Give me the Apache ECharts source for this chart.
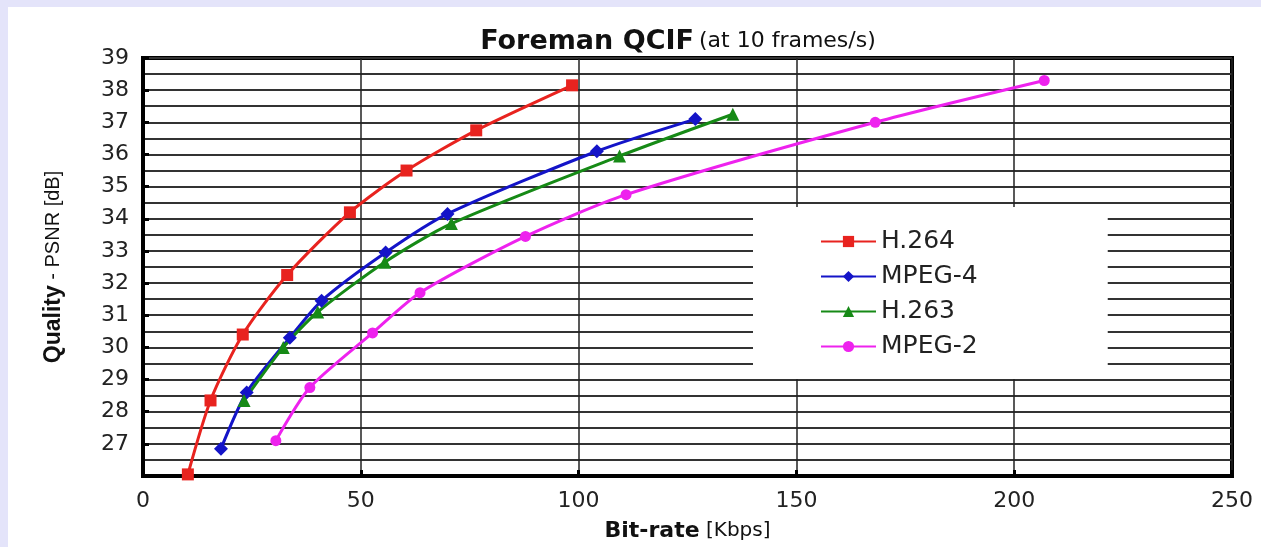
<!DOCTYPE html>
<html>
<head>
<meta charset="utf-8">
<script src="https://cdn.jsdelivr.net/npm/echarts@6/dist/echarts.min.js"></script>
<style>
  html, body { margin: 0; padding: 0; background: #e4e4fa; }
  #main { position: absolute; left: 8px; top: 7px; width: 1253px; height: 540px; background: #fff; }
</style>
</head>
<body>
<div id="main"></div>
<script>
var myChart = echarts.init(document.getElementById('main'));

// bit-rate [Kbps], PSNR [dB]
var h264 = [[10.3, 26.05], [15.5, 28.35], [22.9, 30.4], [33.1, 32.25], [47.5, 34.2], [60.5, 35.5], [76.5, 36.75], [98.5, 38.15]];
var mpeg4 = [[17.9, 26.85], [23.8, 28.6], [33.7, 30.3], [41.0, 31.45], [55.7, 32.95], [69.9, 34.15], [104.2, 36.1], [126.8, 37.1]];
var h263 = [[23.2, 28.35], [32.2, 30.0], [40.1, 31.1], [55.5, 32.65], [70.8, 33.85], [109.4, 35.95], [135.4, 37.25]];
var mpeg2 = [[30.5, 27.1], [38.3, 28.75], [52.7, 30.45], [63.6, 31.7], [87.8, 33.45], [110.9, 34.75], [168.1, 37.0], [206.9, 38.3]];

var names = ['H.264', 'MPEG-4', 'H.263', 'MPEG-2'];
var colors = ['#e8231f', '#1414c8', '#168a16', '#ee22ee'];
var symbols = ['rect', 'diamond', 'triangle', 'circle'];
var symbolSizes = [12, 14, 13, 11];
var sets = [h264, mpeg4, h263, mpeg2];

var font = 'DejaVu Sans, Verdana, sans-serif';

var series = sets.map(function (d, i) {
    return {
        name: names[i],
        type: 'line',
        data: d,
        smooth: 0.25,
        symbol: symbols[i],
        symbolSize: symbolSizes[i],
        showAllSymbol: true,
        color: colors[i],
        lineStyle: { width: 3, color: colors[i] },
        itemStyle: { color: colors[i] },
        animation: false
    };
});

var option = {
    animation: false,
    title: {
        text: '{b|Foreman QCIF} {n|(at 10 frames/s)}',
        left: 665,
        textAlign: 'center',
        top: 16,
        textStyle: {
            fontWeight: 'normal',
            rich: {
                b: { fontFamily: font, fontWeight: 'bold', fontSize: 27, color: '#111' },
                n: { fontFamily: font, fontWeight: 'normal', fontSize: 22, color: '#111' }
            }
        }
    },
    legend: {
        orient: 'vertical',
        left: 745,
        top: 200,
        backgroundColor: '#fff',
        padding: [22, 130, 20, 67],
        itemWidth: 55,
        itemHeight: 14,
        itemGap: 10,
        textStyle: { fontFamily: font, fontSize: 25, color: '#222' },
        data: names
    },
    grid: {
        left: 135,
        top: 51,
        right: 29,
        bottom: 69,
        show: true,
        borderColor: '#000',
        borderWidth: 4
    },
    xAxis: {
        type: 'value',
        min: 0,
        max: 250,
        interval: 50,
        name: '{b|Bit-rate} [Kbps]',
        nameLocation: 'middle',
        nameGap: 44,
        nameTextStyle: {
            fontFamily: font,
            fontSize: 20,
            color: '#111',
            rich: {
                b: { fontFamily: font, fontWeight: 'bold', fontSize: 22, color: '#111' }
            }
        },
        axisLine: { lineStyle: { color: '#000', width: 4 } },
        axisTick: { inside: true, length: 6, lineStyle: { color: '#000', width: 3 } },
        axisLabel: { fontFamily: font, fontSize: 22, color: '#222', margin: 14 },
        splitLine: { lineStyle: { color: '#222', width: 1.5 } }
    },
    yAxis: {
        type: 'value',
        min: 26,
        max: 39,
        interval: 1,
        name: '{b|Quality} - PSNR [dB]',
        nameLocation: 'middle',
        nameGap: 78,
        nameTextStyle: {
            fontFamily: 'Liberation Sans, Arial, sans-serif',
            fontSize: 20,
            color: '#111',
            rich: {
                b: { fontFamily: 'Liberation Sans, Arial, sans-serif', fontWeight: 'bold', fontSize: 23, color: '#111' }
            }
        },
        axisLine: { lineStyle: { color: '#000', width: 4 } },
        axisTick: { inside: true, length: 6, lineStyle: { color: '#000', width: 3 } },
        axisLabel: {
            fontFamily: font,
            fontSize: 22,
            color: '#222',
            margin: 14,
            formatter: function (v) { return v === 26 ? '' : v; }
        },
        splitLine: { lineStyle: { color: '#333', width: 1.8 } },
        minorTick: { show: false, splitNumber: 2 },
        minorSplitLine: { show: true, lineStyle: { color: '#333', width: 1.8 } }
    },
    series: series
};

myChart.setOption(option);
</script>
</body>
</html>
